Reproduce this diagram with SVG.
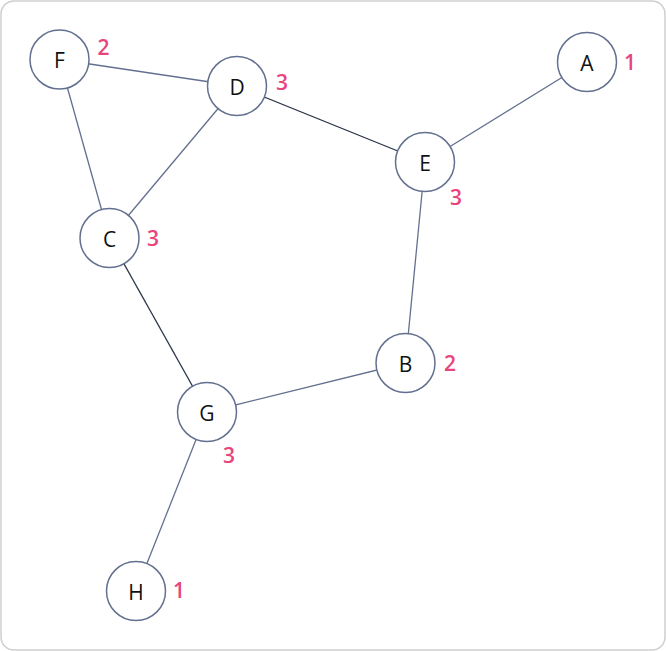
<svg xmlns="http://www.w3.org/2000/svg" width="666" height="651" viewBox="0 0 666 651">
<style>
.e{stroke:#63708f;stroke-width:1.3;fill:none}
.d{stroke:#2a3548;stroke-width:1.3;fill:none}
.n circle{fill:#fff;stroke:#63708f;stroke-width:1.5}
.n text{font-family:"Open Sans","Noto Sans",sans-serif;font-size:21px;fill:#111;text-anchor:middle;dominant-baseline:central}
.n text.w{fill:#e8457c;font-size:21px;font-weight:600;text-anchor:middle}
</style>
<rect x="1" y="1" width="664" height="649" rx="13" fill="#fff" stroke="#cfcfcf" stroke-width="1.5"/>
<g id="edges">
<line class="e" x1="59.5" y1="59.5" x2="237" y2="86"/>
<line class="e" x1="59.5" y1="59.5" x2="109.5" y2="238"/>
<line class="e" x1="237" y1="86" x2="109.5" y2="238"/>
<line class="d" x1="237" y1="86" x2="425" y2="162"/>
<line class="e" x1="425" y1="162" x2="587" y2="62"/>
<line class="e" x1="425" y1="162" x2="405.5" y2="363"/>
<line class="d" x1="109.5" y1="238" x2="207" y2="412"/>
<line class="e" x1="207" y1="412" x2="405.5" y2="363"/>
<line class="e" x1="207" y1="412" x2="136" y2="591"/>
</g>
<g id="node-F" class="n"><circle cx="59.5" cy="59.5" r="29.5"/><text x="59.5" y="60">F</text><text class="w" x="103.5" y="47">2</text></g>
<g id="node-D" class="n"><circle cx="237" cy="86" r="29.5"/><text x="237" y="86.5">D</text><text class="w" x="282" y="82">3</text></g>
<g id="node-E" class="n"><circle cx="425" cy="162" r="29.5"/><text x="425" y="162.5">E</text><text class="w" x="456" y="197">3</text></g>
<g id="node-A" class="n"><circle cx="587" cy="62" r="29.5"/><text x="587" y="62.5">A</text><text class="w" x="630" y="62">1</text></g>
<g id="node-C" class="n"><circle cx="109.5" cy="238" r="29.5"/><text x="109.5" y="238.5">C</text><text class="w" x="153" y="238">3</text></g>
<g id="node-B" class="n"><circle cx="405.5" cy="363" r="29.5"/><text x="405.5" y="363.5">B</text><text class="w" x="450" y="363">2</text></g>
<g id="node-G" class="n"><circle cx="207" cy="412" r="29.5"/><text x="207" y="412.5">G</text><text class="w" x="229" y="455">3</text></g>
<g id="node-H" class="n"><circle cx="136" cy="591" r="29.5"/><text x="136" y="591.5">H</text><text class="w" x="179" y="590">1</text></g>
</svg>
